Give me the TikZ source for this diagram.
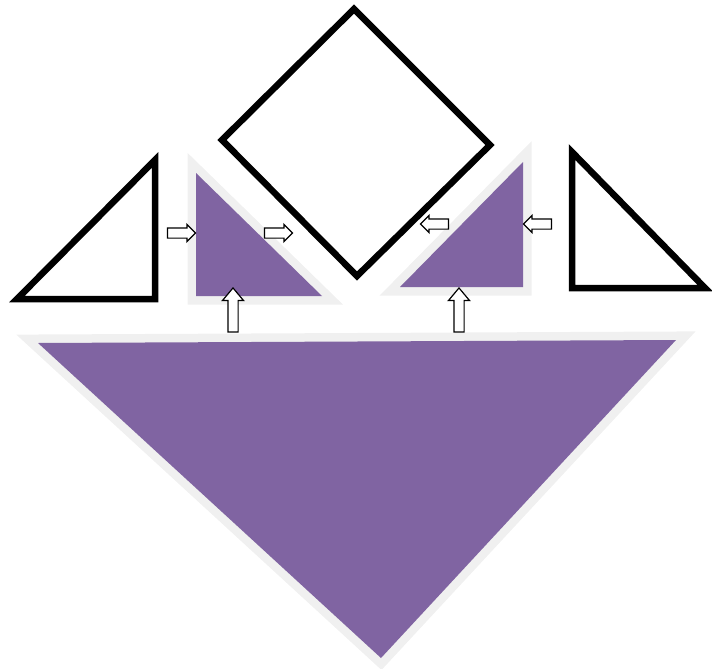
\documentclass[tikz,border=0pt]{standalone}
\usepackage{tikz}
\usetikzlibrary{shapes.arrows}
\definecolor{viola}{HTML}{8064A2}
\definecolor{alone}{HTML}{F0F0F0}

\begin{document}
\begin{tikzpicture}[x=1pt,y=-1pt,
  pezzo/.style={fill=viola,preaction={draw=alone,line width=17pt,line join=miter}},
  sagoma/.style={draw=black,line width=6.5pt,line join=miter},
  freccia/.style={single arrow,draw=black,fill=white,line width=1.2pt,inner xsep=0pt,inner ysep=4.5pt,
    minimum height=28pt,single arrow head extend=3.5pt},
  frecciasu/.style={freccia,rotate=90,minimum height=44pt,single arrow head extend=5.5pt,single arrow tip angle=80}]
  \useasboundingbox (0,0) rectangle (712,669);
  % pezzi viola con alone grigio
  \path[pezzo] (196,173)--(196,296)--(322,296)--cycle;
  \path[pezzo] (523,162)--(523,287)--(400,287)--cycle;
  \path[pezzo] (38,343)--(676,340)--(381,658)--cycle;
  % pezzi vuoti (contorno nero)
  \draw[sagoma] (155,160)--(155,299)--(17,299)--cycle;
  \draw[sagoma] (572,152)--(572,288)--(705,288)--cycle;
  \draw[sagoma] (354,9)--(490,145)--(357,276)--(222,140)--cycle;
  % frecce orizzontali
  \node[freccia] (fa) at (179,233) {};
  \node[freccia] (fb) at (276,233) {};
  \node[freccia,rotate=180] (fc) at (437,224) {};
  \node[freccia,rotate=180] (fd) at (540,224) {};
  % frecce verso l'alto
  \node[frecciasu] (sa) at (233,313) {};
  \node[frecciasu] (sb) at (459,313) {};
\end{tikzpicture}
\end{document}
